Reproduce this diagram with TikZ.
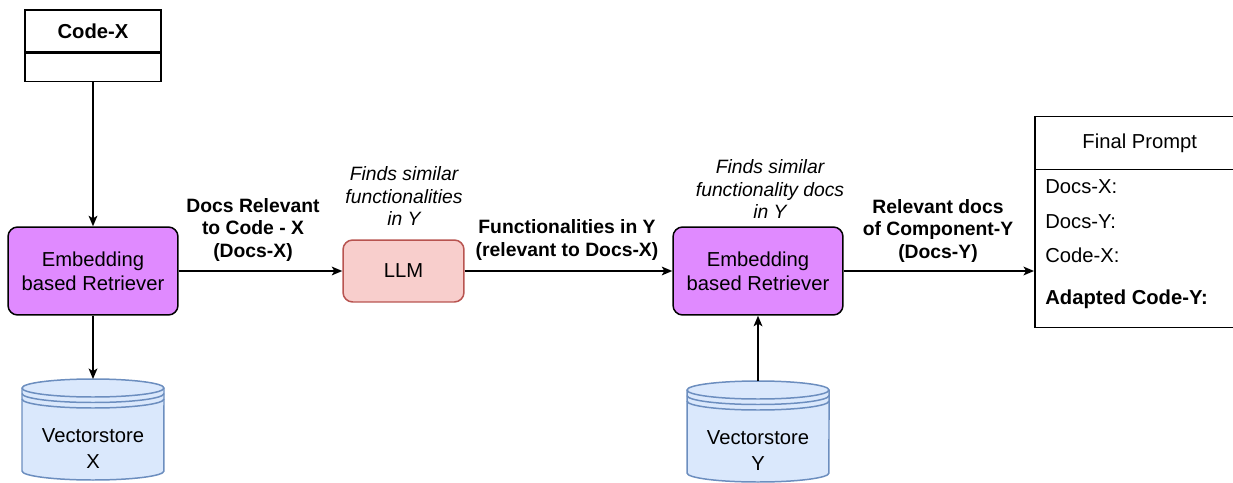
\documentclass[tikz,border=0pt]{standalone}
\usepackage{fontspec}
\setmainfont{Liberation Sans}
\usetikzlibrary{arrows.meta,positioning}
\definecolor{retfill}{RGB}{224,138,255}
\definecolor{llmfill}{HTML}{F8CECC}
\definecolor{llmdraw}{HTML}{B85450}
\definecolor{storefill}{HTML}{DAE8FC}
\definecolor{storedraw}{HTML}{6C8EBF}

\tikzset{
  box/.style={draw, line width=0.85pt, font=\fontsize{11.5}{13.8}\selectfont, align=center, inner sep=0pt},
  retriever/.style={box, fill=retfill, rounded corners=5.5pt, minimum width=3.4cm, minimum height=1.76cm},
  llmbox/.style={box, draw=llmdraw, fill=llmfill, rounded corners=5.5pt, minimum width=2.42cm, minimum height=1.24cm},
  flow/.style={line width=0.8pt, -{Stealth[length=6pt,width=5pt,inset=1.5pt]}},
  lbl/.style={font=\fontsize{11}{12.8}\selectfont\bfseries, align=center},
  note/.style={font=\fontsize{11}{12.8}\selectfont\itshape, align=center},
  item/.style={font=\fontsize{11.5}{13.8}\selectfont, inner sep=0pt, anchor=base west},
  store/.style={draw=storedraw, fill=storefill, line width=0.85pt},
  storetext/.style={font=\fontsize{11.5}{14.8}\selectfont, align=center},
}

\newcommand{\storeshape}[1]{%
  \begin{scope}[shift={#1}]
    \draw[store] (0,0) -- (0,83) arc[start angle=180, end angle=360, x radius=1.42cm, y radius=0.18cm]
      -- (142,0) arc[start angle=0, end angle=180, x radius=1.42cm, y radius=0.18cm] -- cycle;
    \foreach \dy in {0,5.5,11}
      \draw[store, fill=none] (0,\dy) arc[start angle=180, end angle=360, x radius=1.42cm, y radius=0.18cm];
  \end{scope}}

\begin{document}
\begin{tikzpicture}[x=0.02cm, y=-0.02cm]
  \useasboundingbox (0,0) rectangle (1233,483);

  % input code
  \node[box, minimum width=2.72cm, minimum height=0.84cm] (codeX) at (93,31) {\bfseries Code-X};
  \node[box, minimum width=2.72cm, minimum height=0.56cm, below=0pt of codeX] (codeXbody) {};

  % retrievers and llm
  \node[retriever] (retX) at (93,271) {Embedding\\based Retriever};
  \node[llmbox] (llm) at (403.5,271) {LLM};
  \node[retriever] (retY) at (758,271) {Embedding\\based Retriever};

  % vector stores
  \storeshape{(22,388)}
  \node[storetext] (vsX) at (93,449) {Vectorstore\\X};
  \coordinate (vsXtop) at (93,379);
  \storeshape{(687,390)}
  \node[storetext] (vsY) at (758,451) {Vectorstore\\Y};
  \coordinate (vsYtop) at (758,381);

  % final prompt
  \node[box, minimum width=4.2cm, minimum height=1.06cm, anchor=north west] (fpHead) at (1034,116) {Final Prompt};
  \node[box, minimum width=4.2cm, minimum height=3.16cm, anchor=north west] (fpBody) at (1034,169) {};
  \node[item] (fpDocsX) at (1045,193) {Docs-X:};
  \node[item] (fpDocsY) at (1045,228) {Docs-Y:};
  \node[item] (fpCodeX) at (1045,262) {Code-X:};
  \node[item] (fpCodeY) at (1045,304) {\bfseries Adapted Code-Y:};

  % labels
  \node[lbl] (lblDocsX) at (253,230) {Docs Relevant\\to Code - X\\(Docs-X)};
  \node[note] (noteLLM) at (404,196) {Finds similar\\functionalities\\in Y};
  \node[lbl] (lblFunc) at (567,240) {Functionalities in Y\\(relevant to Docs-X)};
  \node[note] (noteRetY) at (770,189) {Finds similar\\functionality docs\\in Y};
  \node[lbl] (lblDocsY) at (938,231) {Relevant docs\\of Component-Y\\(Docs-Y)};

  % connectors
  \draw[flow] (codeXbody) -- (retX);
  \draw[flow] (retX) -- (vsXtop);
  \draw[flow] (retX) -- (llm);
  \draw[flow] (llm) -- (retY);
  \draw[flow] (vsYtop) -- (retY);
  \draw[flow] (retY.east) -- (retY.east -| fpBody.west);
\end{tikzpicture}
\end{document}
